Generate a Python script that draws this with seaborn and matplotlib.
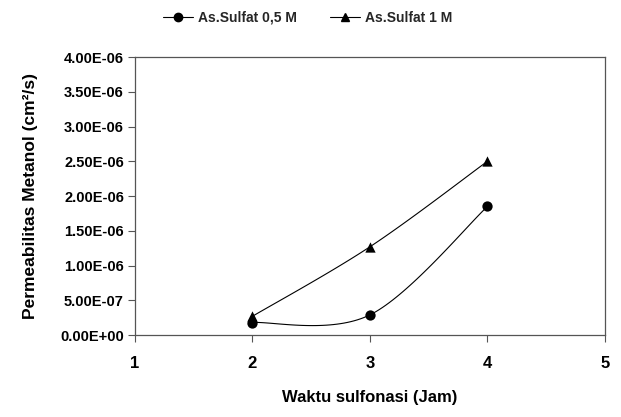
import numpy as np
import pandas as pd
import seaborn as sns
import matplotlib.pyplot as plt
from matplotlib.lines import Line2D
from matplotlib.ticker import FuncFormatter

waktu = [2, 3, 4]
sulfat_05 = [1.8e-7, 2.9e-7, 1.85e-6]
sulfat_1 = [2.7e-7, 1.27e-6, 2.5e-6]
series_names = ["As.Sulfat 0,5 M", "As.Sulfat 1 M"]


def smooth(xs, ys, n=40):
    # excel style smoothed line (bezier through the points)
    xs = np.asarray(xs, float)
    ys = np.asarray(ys, float)
    px = np.concatenate([[xs[0]], xs, [xs[-1]]])
    py = np.concatenate([[ys[0]], ys, [ys[-1]]])
    outx, outy = [], []
    t = np.linspace(0, 1, n)
    for i in range(1, len(px) - 2):
        p0 = np.array([px[i], py[i]])
        p3 = np.array([px[i + 1], py[i + 1]])
        p1 = p0 + (np.array([px[i + 1], py[i + 1]]) - np.array([px[i - 1], py[i - 1]])) / 6
        p2 = p3 - (np.array([px[i + 2], py[i + 2]]) - np.array([px[i], py[i]])) / 6
        b = ((1 - t) ** 3)[:, None] * p0 + (3 * (1 - t) ** 2 * t)[:, None] * p1 \
            + (3 * (1 - t) * t ** 2)[:, None] * p2 + (t ** 3)[:, None] * p3
        outx.extend(b[:, 0])
        outy.extend(b[:, 1])
    return np.array(outx), np.array(outy)


sns.set_theme(style="ticks")
plt.rcParams["font.family"] = ["Liberation Sans", "DejaVu Sans"]
plt.rcParams["font.weight"] = "bold"

fig = plt.figure(figsize=(6.21, 4.17), dpi=100)
ax = fig.add_axes([0.2174, 0.1966, 0.7568, 0.6667])

for ys, marker in [(sulfat_05, "o"), (sulfat_1, "^")]:
    sx, sy = smooth(waktu, ys)
    sns.lineplot(x=sx, y=sy, ax=ax, color="black", linewidth=0.8, sort=False)
    sns.scatterplot(x=waktu, y=ys, ax=ax, color="black", marker=marker,
                    s=55, edgecolor="black", linewidth=0, zorder=3)

ax.set_xlim(1, 5)
ax.set_ylim(0, 4e-6)
ax.set_xticks([1, 2, 3, 4, 5])
ax.set_yticks(np.arange(0, 4.01e-6, 5e-7))
ax.yaxis.set_major_formatter(FuncFormatter(lambda v, p: f"{v:.2E}"))
ax.tick_params(axis="y", labelsize=10.5, length=5, width=0.8, color="#555555",
               labelcolor="black", pad=3)
ax.tick_params(axis="x", labelsize=12, length=5, width=0.8, color="#555555",
               labelcolor="black", pad=10)
for lab in ax.get_xticklabels() + ax.get_yticklabels():
    lab.set_fontweight("bold")
for sp in ax.spines.values():
    sp.set_color("#555555")
    sp.set_linewidth(0.9)

ax.set_xlabel("Waktu sulfonasi (Jam)", fontsize=12, fontweight="bold", labelpad=14,
              color="black")
ax.set_ylabel("Permeabilitas Metanol (cm²/s)", fontsize=12.5, fontweight="bold",
              labelpad=16, color="black")

handles = [
    Line2D([], [], color="black", marker="o", markersize=6, linewidth=0.8),
    Line2D([], [], color="black", marker="^", markersize=6, linewidth=0.8),
]
leg = fig.legend(handles, series_names, loc="center", bbox_to_anchor=(0.495, 0.957),
                 ncol=2, frameon=False, prop={"size": 10, "weight": "bold"},
                 handlelength=2.2, columnspacing=2.4, handletextpad=0.3)

fig.savefig("out.png", dpi=100)
